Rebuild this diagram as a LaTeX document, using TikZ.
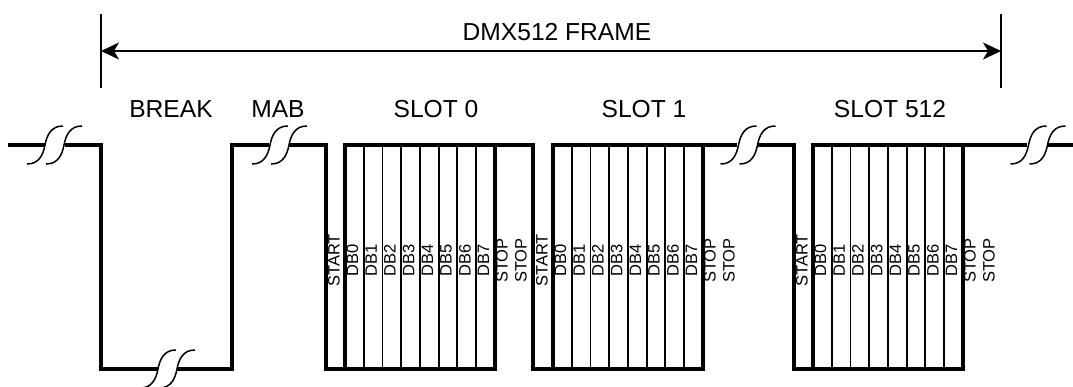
\documentclass[tikz,border=0pt]{standalone}
\usepackage{fontspec}
\setmainfont{Liberation Sans}
\usetikzlibrary{arrows.meta}
\tikzset{
  x=1pt,y=-1pt,
  waveline/.style={line width=3.4pt,line join=miter,line cap=butt},
  databit/.style={line width=1.8pt},
  thinline/.style={line width=1.6pt},
  brk/.style={line width=1.5pt},
  bigtext/.style={font=\fontsize{24.6}{25}\selectfont,inner sep=0pt},
  smalltext/.style={font=\fontsize{16.5}{17}\selectfont,inner sep=0pt,rotate=90,anchor=west},
  dimarrow/.style={thinline,{Stealth[length=18pt,width=17pt,inset=5pt]}-{Stealth[length=18pt,width=17pt,inset=5pt]}}
}
\newcommand{\brkmark}[2]{%
  \foreach \d in {-9.5,9.5}{
    \draw[brk] (#1+\d-18,#2+19) .. controls (#1+\d-6,#2+19) and (#1+\d-2,#2+10) .. (#1+\d,#2)
      .. controls (#1+\d+2,#2-10) and (#1+\d+6,#2-19) .. (#1+\d+18,#2-19);
  }}
\begin{document}
\begin{tikzpicture}
\useasboundingbox (0,0) rectangle (1073,386);
\clip (0,0) rectangle (1073,386);
% dimension
\coordinate (tl1) at (101,14); \coordinate (tl2) at (101,88);
\coordinate (tr1) at (1001,14); \coordinate (tr2) at (1001,88);
\coordinate (al) at (101,51); \coordinate (ar) at (1001,51);
\draw[thinline] (tl1) -- (tl2);
\draw[thinline] (tr1) -- (tr2);
\draw[dimarrow] (al) -- (ar);
\node[bigtext] (frame) at (557,32) {DMX512 FRAME};
\node[bigtext] (break) at (171,109) {BREAK};
\node[bigtext] (mab) at (278,109) {MAB};
\node[bigtext] (s0) at (436,109) {SLOT 0};
\node[bigtext] (s1) at (644,109) {SLOT 1};
\node[bigtext] (s512) at (890,109) {SLOT 512};
% waveform
\draw[waveline] (8,145) -- (44.5,145);
\draw[waveline] (64.5,145) -- (101,145) -- (101,369) -- (158,369);
\draw[waveline] (177,369) -- (232,369) -- (232,145) -- (269,145);
\draw[waveline] (289,145) -- (326,145) -- (326,369) -- (495,369) -- (495,145);
\draw[waveline] (345,369) -- (345,145) -- (533,145) -- (533,369) -- (703,369) -- (703,145);
\draw[waveline] (553,369) -- (553,145) -- (737,145);
\draw[waveline] (758,145) -- (794,145) -- (794,369) -- (963,369) -- (963,145);
\draw[waveline] (813,369) -- (813,145) -- (1027,145);
\draw[waveline] (1048,145) -- (1073,145);
% break marks
\brkmark{54.5}{145}
\brkmark{279.5}{145}
\brkmark{167.5}{369}
\brkmark{748}{145}
\brkmark{1038}{145}
% slots
\foreach \off/\nm in {0/a,208/b,468/c}{
  \foreach \i in {1,...,7}{
    \draw[databit] ({345+\off+\i*18.72},145) -- ({345+\off+\i*18.72},369);
  }
  \node[smalltext] (start\nm) at (334+\off,287) {START};
  \foreach \i in {0,...,7}{
    \node[smalltext] (db\i\nm) at ({352.5+\off+\i*18.72},277) {DB\i};
  }
  \node[smalltext] (stopa\nm) at (502+\off,283) {STOP};
  \node[smalltext] (stopb\nm) at (521+\off,283) {STOP};
}
\end{tikzpicture}
\end{document}
